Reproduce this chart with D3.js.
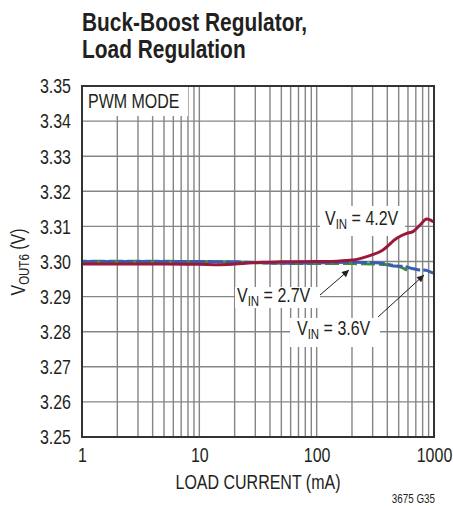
<!DOCTYPE html>
<html>
<head>
<meta charset="utf-8">
<script src="https://cdn.jsdelivr.net/npm/d3@7"></script>
<style>
  html, body { margin: 0; padding: 0; background: #fff; }
  svg { display: block; }
  text { font-family: "Liberation Sans", Arial, sans-serif; fill: #231f20; }
</style>
</head>
<body>
<svg id="chart" width="453" height="506"></svg>
<script>
// Load current (mA) and output voltage (V) for each input voltage
const current42 = [1, 5, 10, 15, 25, 35, 50, 100, 150, 204, 267, 367, 481, 585, 662, 760, 867, 956, 1000];
const vout42    = [3.2993, 3.2993, 3.2992, 3.2991, 3.2995, 3.2998, 3.2999, 3.3000, 3.3001, 3.3004, 3.3014, 3.3033, 3.3066, 3.3080, 3.3085, 3.3104, 3.3121, 3.3116, 3.3113];

const current36 = [1, 10, 20, 30, 50, 100, 200, 300, 400, 450, 550, 650, 750, 850, 950, 1000];
const vout36    = [3.3000, 3.3000, 3.2999, 3.2997, 3.2995, 3.2996, 3.2998, 3.2997, 3.2992, 3.2987, 3.2986, 3.2980, 3.2976, 3.2975, 3.2969, 3.2966];

const current27 = [1, 10, 30, 50, 100, 200, 300, 400, 500, 590];
const vout27    = [3.3001, 3.3000, 3.2997, 3.2995, 3.2994, 3.2994, 3.2993, 3.2991, 3.2986, 3.2975];

const xTicks = [1, 10, 100, 1000];
const yTicks = [3.25, 3.26, 3.27, 3.28, 3.29, 3.30, 3.31, 3.32, 3.33, 3.34, 3.35];

const svg = d3.select("#chart");
const plot = { left: 82, right: 434, top: 86, bottom: 437 };
const NARROW = 0.82; // horizontal squeeze for a condensed typeface look

const x = d3.scaleLog().domain([1, 1000]).range([plot.left, plot.right]);
const y = d3.scaleLinear().domain([3.25, 3.35]).range([plot.bottom, plot.top]);

// Text placed at (tx, ty) and squeezed horizontally
function label(tx, ty, size, opts = {}) {
  const rot = opts.rotate ? ` rotate(${opts.rotate})` : "";
  return svg.append("text")
    .attr("transform", `translate(${tx},${ty})${rot} scale(${NARROW},1)`)
    .attr("text-anchor", opts.anchor || "start")
    .style("font-size", size + "px")
    .style("font-weight", opts.weight || null);
}

// Title
label(82, 31, 25.5, { weight: "bold" }).text("Buck-Boost Regulator,");
label(82, 57.5, 25.5, { weight: "bold" }).text("Load Regulation");

// Grid: log minor lines for each decade plus horizontal lines at every tick
const minor = [];
[1, 10, 100].forEach(d => { for (let k = 2; k <= 9; k++) minor.push(d * k); });
const vLines = minor.concat([10, 100]);
const grid = svg.append("g").attr("stroke", "#858585").attr("stroke-width", 1.4);
grid.selectAll("line.v").data(vLines).join("line").attr("class", "v")
  .attr("x1", d => x(d)).attr("x2", d => x(d))
  .attr("y1", plot.top).attr("y2", plot.bottom);
grid.selectAll("line.h").data(yTicks.slice(1, -1)).join("line").attr("class", "h")
  .attr("x1", plot.left).attr("x2", plot.right)
  .attr("y1", d => y(d)).attr("y2", d => y(d));

// White panels behind the in-plot labels
const panels = [
  [82, 86, 188, 116],
  [320, 206, 405, 236],
  [235, 287, 320, 308],
  [290, 318, 380, 347]
];
svg.append("g").selectAll("rect").data(panels).join("rect")
  .attr("x", d => d[0]).attr("y", d => d[1])
  .attr("width", d => d[2] - d[0]).attr("height", d => d[3] - d[1])
  .attr("fill", "#fff");

// Curves
const line = d3.line().x(d => x(d[0])).y(d => y(d[1])).curve(d3.curveMonotoneX);
const zip = (a, b) => a.map((v, i) => [v, b[i]]);
const curves = svg.append("g").attr("fill", "none").attr("stroke-width", 3);
curves.append("path").attr("d", line(zip(current27, vout27)))
  .attr("stroke", "#3c8c3f").attr("stroke-dasharray", "14,4").attr("stroke-dashoffset", 9);
curves.append("path").attr("d", line(zip(current36, vout36)))
  .attr("stroke", "#3b5daf").attr("stroke-dasharray", "15,3");
curves.append("path").attr("d", line(zip(current42, vout42)))
  .attr("stroke", "#9b1839");

// Frame
svg.append("rect").attr("x", plot.left).attr("y", plot.top)
  .attr("width", plot.right - plot.left).attr("height", plot.bottom - plot.top)
  .attr("fill", "none").attr("stroke", "#333").attr("stroke-width", 2);

// Axes tick labels
const xAxis = d3.axisBottom(x).tickValues(xTicks).tickFormat(d3.format("d")).tickSize(0).tickPadding(0);
svg.append("g").attr("transform", `translate(0,${plot.bottom})`).call(xAxis)
  .call(g => g.select(".domain").remove())
  .call(g => g.selectAll("text").attr("x", null).attr("y", null).attr("dy", null)
    .attr("transform", `translate(0,24.5) scale(${NARROW},1)`)
    .style("font-size", "19.5px").attr("fill", "#231f20").style("font-family", null));

const yAxis = d3.axisLeft(y).tickValues(yTicks).tickFormat(d3.format(".2f")).tickSize(0).tickPadding(0);
svg.append("g").attr("transform", `translate(${plot.left},0)`).call(yAxis)
  .call(g => g.select(".domain").remove())
  .call(g => g.selectAll("text").attr("x", null).attr("dy", "0.35em")
    .attr("transform", `translate(-11,0) scale(${NARROW},1)`)
    .style("font-size", "19.5px").attr("fill", "#231f20").style("font-family", null));

// Axis titles
label(258, 489, 19.5, { anchor: "middle" }).text("LOAD CURRENT (mA)");

const yTitle = label(25, 262, 19.5, { anchor: "middle", rotate: -90 });
yTitle.append("tspan").text("V");
yTitle.append("tspan").attr("dy", 4).style("font-size", "14px").text("OUT6");
yTitle.append("tspan").attr("dy", -4).text(" (V)");

// In-plot labels
label(88, 108, 19.5).text("PWM MODE");

function vinLabel(xp, yp, value) {
  const t = label(xp, yp, 19.5);
  t.append("tspan").text("V");
  t.append("tspan").attr("dy", 4).style("font-size", "14px").text("IN");
  t.append("tspan").attr("dy", -4).text(" = " + value);
}
vinLabel(325, 225, "4.2V");
vinLabel(237, 302, "2.7V");
vinLabel(297, 335, "3.6V");

// Arrows
svg.append("defs").append("marker").attr("id", "head")
  .attr("viewBox", "0 0 10 10").attr("refX", 10).attr("refY", 5)
  .attr("markerWidth", 11).attr("markerHeight", 7).attr("markerUnits", "userSpaceOnUse")
  .attr("orient", "auto")
  .append("path").attr("d", "M0,0 L10,5 L0,10 Z").attr("fill", "#231f20");
const arrows = [[320, 295, 349, 270], [378, 317, 424, 275]];
svg.append("g").selectAll("line").data(arrows).join("line")
  .attr("x1", d => d[0]).attr("y1", d => d[1]).attr("x2", d => d[2]).attr("y2", d => d[3])
  .attr("stroke", "#231f20").attr("stroke-width", 1).attr("marker-end", "url(#head)");

// Figure code
label(435, 503, 12, { anchor: "end" }).text("3675 G35");
</script>
</body>
</html>
